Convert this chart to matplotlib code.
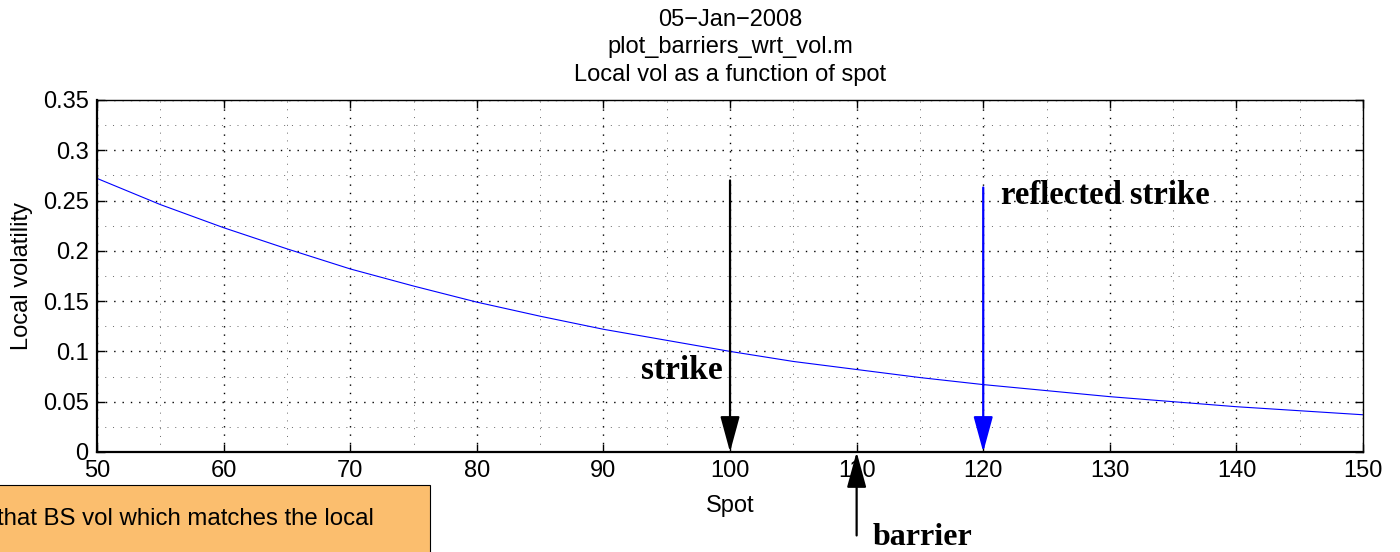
import numpy as np
import matplotlib
matplotlib.use("Agg")
import matplotlib.pyplot as plt
from matplotlib.ticker import MultipleLocator
from matplotlib.patches import Rectangle

# local vol curve
spot = [50, 55, 60, 65, 70, 75, 80, 85, 90, 95, 100,
        105, 110, 115, 120, 125, 130, 135, 140, 145, 150]
local_vol = [0.272, 0.246, 0.223, 0.202, 0.182, 0.165, 0.149, 0.135, 0.122, 0.111, 0.100,
             0.090, 0.082, 0.074, 0.067, 0.061, 0.055, 0.050, 0.045, 0.041, 0.037]

strike = 100
reflected_strike = 120
barrier = 110

title_lines = ["05\u2212Jan\u22122008", "plot_barriers_wrt_vol.m", "Local vol as a function of spot"]

plt.rcParams['font.family'] = ['Liberation Sans', 'DejaVu Sans']
serif = ['Liberation Serif', 'DejaVu Serif']

fig = plt.figure(figsize=(14, 5.52), dpi=100)
ax = fig.add_axes([0.0693, 0.1812, 0.9043, 0.6377])

ax.plot(spot, local_vol, color='blue', lw=0.8)

ax.set_xlim(50, 150)
ax.set_ylim(0, 0.35)
ax.xaxis.set_major_locator(MultipleLocator(10))
ax.xaxis.set_minor_locator(MultipleLocator(5))
ax.yaxis.set_major_locator(MultipleLocator(0.05))
ax.yaxis.set_minor_locator(MultipleLocator(0.025))
ax.yaxis.set_major_formatter(plt.FuncFormatter(lambda v, p: ('%.2f' % v).rstrip('0').rstrip('.') if v else '0'))
ax.tick_params(which='both', direction='in', top=True, right=True, labelsize=17)
ax.tick_params(which='major', length=6, width=1)
ax.tick_params(axis='x', which='major', pad=6)
ax.tick_params(axis='y', which='major', pad=6)
ax.tick_params(which='minor', length=0)
ax.grid(which='major', color='black', linestyle=(0, (1, 5)), lw=1.0)
ax.grid(which='minor', color='0.4', linestyle=(0, (1, 7)), lw=0.7)
for sp in ax.spines.values():
    sp.set_linewidth(1.0)
ax.spines['left'].set_linewidth(1.6)
ax.spines['bottom'].set_linewidth(1.6)

ax.set_xlabel("Spot", fontsize=17, labelpad=9)
ax.set_ylabel("Local volatility", fontsize=17, labelpad=7)
ax.set_title("\n".join(title_lines), fontsize=17, linespacing=1.3, pad=14)

arrow_style = "-|>,head_length=1.1,head_width=0.3"

ax.annotate("", xy=(strike, 0), xytext=(strike, 0.27),
            arrowprops=dict(arrowstyle=arrow_style, color='black', lw=1.6,
                            mutation_scale=20, shrinkA=0, shrinkB=0), annotation_clip=False)
ax.text(strike - 0.6, 0.0815, "strike", family=serif, fontweight='bold', fontsize=24,
        ha='right', va='center')

ax.annotate("", xy=(reflected_strike, 0), xytext=(reflected_strike, 0.263),
            arrowprops=dict(arrowstyle=arrow_style, color='blue', lw=1.6,
                            mutation_scale=20, shrinkA=0, shrinkB=0), annotation_clip=False)
ax.text(reflected_strike + 1.4, 0.255, "reflected strike", family=serif, fontweight='bold',
        fontsize=23.5, ha='left', va='center')

ax.annotate("", xy=(barrier, 0), xytext=(barrier, -0.083),
            arrowprops=dict(arrowstyle=arrow_style, color='black', lw=1.6,
                            mutation_scale=20, shrinkA=0, shrinkB=0), annotation_clip=False)
ax.text(barrier + 1.3, -0.0855, "barrier", family=serif, fontweight='bold', fontsize=23,
        ha='left', va='center', clip_on=False)

# clipped textbox at the bottom left
box = Rectangle((-0.01, -0.05), 0.317, 0.171, transform=fig.transFigure,
                facecolor='#fbbe6e', edgecolor='black', lw=0.8, zorder=5)
fig.patches.append(box)
fig.text(-0.002, 0.06, "that BS vol which matches the local", fontsize=17.3,
         ha='left', va='center', zorder=6)

fig.savefig("out.png", dpi=100)
